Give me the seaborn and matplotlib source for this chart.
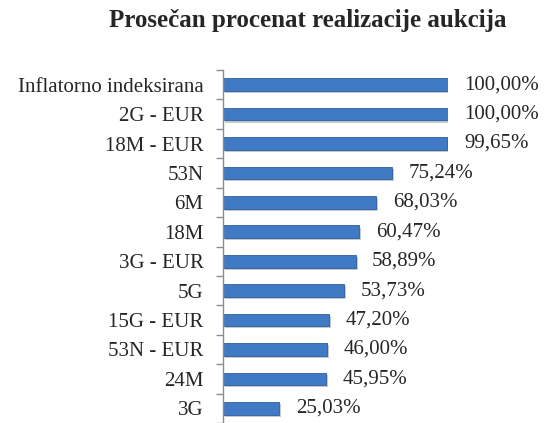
import numpy as np
import pandas as pd
import matplotlib
matplotlib.use('Agg')
import matplotlib.pyplot as plt
import matplotlib.patheffects as pe
import seaborn as sns

categories = ['Inflatorno indeksirana', '2G - EUR', '18M - EUR', '53N', '6M', '18M',
              '3G - EUR', '5G', '15G - EUR', '53N - EUR', '24M', '3G']
values = [100.00, 100.00, 99.65, 75.24, 68.03, 60.47, 58.89, 53.73, 47.20, 46.00, 45.95, 25.03]
title = 'Prosečan procenat realizacije aukcija'

df = pd.DataFrame({'Emisija': categories, 'Procenat': values})

sns.set_style('white', {'ytick.left': True})
plt.rcParams['font.family'] = ['Liberation Serif', 'DejaVu Serif']

fig = plt.figure(figsize=(5.45, 4.23), dpi=100)
ax = fig.add_axes([223/545, 0.0, 225/545, 1 - 70/423])
sns.barplot(data=df, x='Procenat', y='Emisija', orient='h', color='#4079C4',
            saturation=1, width=0.43, ax=ax)

for p in ax.patches:
    p.set_edgecolor('#2D5E9E')
    p.set_linewidth(0.6)
    p.set_path_effects([pe.SimplePatchShadow(offset=(1.5, -1.5), alpha=0.25), pe.Normal()])

ax.set_xlim(0, 100)
ax.set_ylim(len(categories) - 0.5, -0.5)
ax.set_xlabel('')
ax.set_ylabel('')
ax.set_xticks([])
for s in ['top', 'right', 'bottom']:
    ax.spines[s].set_visible(False)
ax.spines['left'].set_color('#8C8C8C')
ax.spines['left'].set_linewidth(1.0)

# boundary ticks as major ticks, category names as minor tick labels
ax.set_yticks(np.arange(len(categories) + 1) - 0.5)
ax.set_yticklabels([])
ax.tick_params(axis='y', which='major', left=True, length=5, width=1.0,
               color='#8C8C8C', direction='out')
ax.set_yticks(np.arange(len(categories)), minor=True)
ax.set_yticklabels(categories, minor=True, fontsize=15)
ax.tick_params(axis='y', which='minor', left=True, length=0, pad=14)

for i, v in enumerate(values):
    lbl = '{:.2f}%'.format(v).replace('.', ',')
    ax.annotate(lbl, (v, i), xytext=(12, 0), textcoords='offset points',
                va='center', ha='left', fontsize=15, annotation_clip=False)

fig.text(308/545, 1 - 20/423, title, ha='center', va='center',
         fontsize=18, fontweight='bold')

fig.savefig('out.png', dpi=100)
plt.close(fig)
